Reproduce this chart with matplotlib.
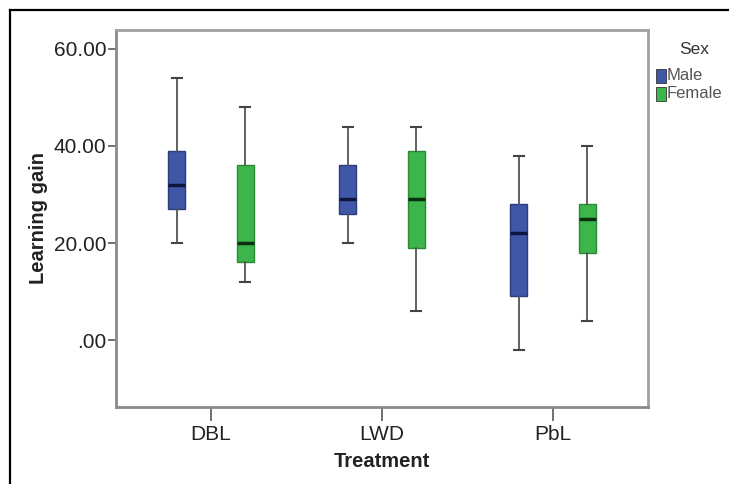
import matplotlib
matplotlib.use("Agg")
import matplotlib.pyplot as plt
from matplotlib.lines import Line2D
from matplotlib.patches import Rectangle

plt.rcParams['font.family'] = ['Liberation Sans', 'DejaVu Sans']

treatments = ['DBL', 'LWD', 'PbL']
sexes = ['Male', 'Female']
# five-number summaries: low whisker, Q1, median, Q3, high whisker
male_low = [20, 20, -2]
male_q1 = [27, 26, 9]
male_med = [32, 29, 22]
male_q3 = [39, 36, 28]
male_high = [54, 44, 38]
female_low = [12, 6, 4]
female_q1 = [16, 19, 18]
female_med = [20, 29, 25]
female_q3 = [36, 39, 28]
female_high = [48, 44, 40]

y_ticks = [0, 20, 40, 60]
y_tick_labels = ['.00', '20.00', '40.00', '60.00']

W, H = 729, 484
fig = plt.figure(figsize=(W / 100, H / 100), dpi=100)
ax = fig.add_axes([116 / W, 1 - 407 / H, (648 - 116) / W, (407 - 30) / H])


def stats(low, q1, med, q3, high):
    return [dict(whislo=a, q1=b, med=c, q3=d, whishi=e, fliers=[])
            for a, b, c, d, e in zip(low, q1, med, q3, high)]


groups = [
    (stats(male_low, male_q1, male_med, male_q3, male_high), -0.2,
     '#4057a8', '#2b3c7c', '#0e1640'),
    (stats(female_low, female_q1, female_med, female_q3, female_high), 0.2,
     '#3cb54a', '#2a8a36', '#0b3010'),
]
for st, off, fill, edge, medc in groups:
    pos = [i + off for i in range(len(treatments))]
    ax.bxp(st, positions=pos, widths=0.1, patch_artist=True, showfliers=False,
           capwidths=0.06,
           boxprops=dict(facecolor=fill, edgecolor=edge, linewidth=1),
           medianprops=dict(color=medc, linewidth=2.5, solid_capstyle='butt'),
           whiskerprops=dict(color='#555555', linewidth=1.3),
           capprops=dict(color='#444444', linewidth=1.5),
           manage_ticks=False)

ax.set_xlim(-0.555, 2.555)
ax.set_ylim(-13.8, 63.9)
ax.set_xticks(range(len(treatments)))
ax.set_xticklabels(treatments, fontsize=15, color='#222222')
ax.set_yticks(y_ticks)
ax.set_yticklabels(y_tick_labels, fontsize=15, color='#222222')
ax.tick_params(axis='y', length=6, width=1.3, color='#666666', pad=1)
ax.tick_params(axis='x', length=10, width=1.3, color='#666666', pad=3)
for name, s in ax.spines.items():
    s.set_color('#8a8a8a' if name in ('left', 'bottom') else '#a0a0a0')
    s.set_linewidth(2)

ax.set_xlabel('Treatment', fontsize=14.5, fontweight='bold', color='#222222', labelpad=6)
ax.set_ylabel('Learning gain', fontsize=14.5, fontweight='bold', color='#222222', labelpad=4)

# legend drawn by hand to match the SPSS layout
fig.text(694 / W, 1 - 50 / H, 'Sex', fontsize=12.5, color='#333333', ha='center', va='center')
for i, (name, col) in enumerate(zip(sexes, ['#4057a8', '#3cb54a'])):
    yc = 76 + i * 18
    fig.patches.append(Rectangle((656 / W, 1 - (yc + 7) / H), 10 / W, 14 / H,
                                 transform=fig.transFigure, facecolor=col,
                                 edgecolor='#333333', linewidth=0.6))
    fig.text(667 / W, 1 - yc / H, name, fontsize=12, color='#555555', ha='left', va='center')

# black frame around the image
fig.lines.append(Line2D([10 / W, 10 / W], [0, 1 - 10 / H], transform=fig.transFigure,
                        color='black', linewidth=1.6))
fig.lines.append(Line2D([10 / W, 1], [1 - 10 / H, 1 - 10 / H], transform=fig.transFigure,
                        color='black', linewidth=1.6))

fig.savefig('out.png', dpi=100)
